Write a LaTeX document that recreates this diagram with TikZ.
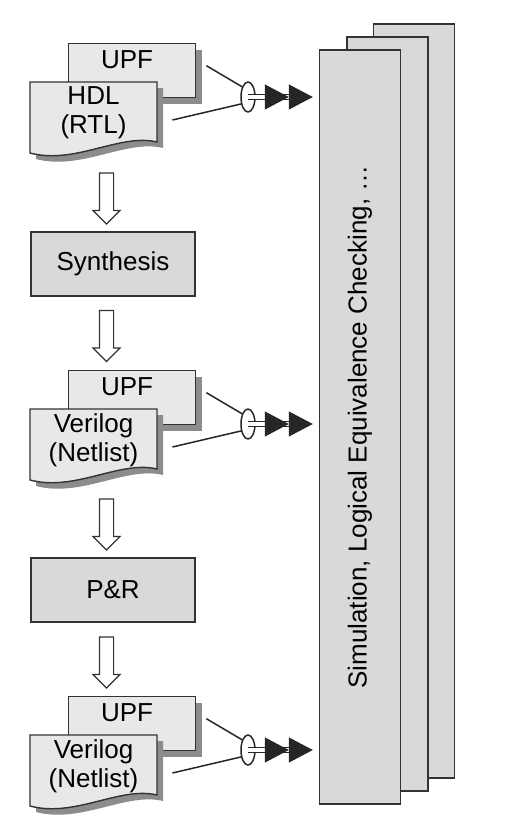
\documentclass[tikz,border=0pt]{standalone}
\usepackage{fontspec}
\setmainfont{Liberation Sans}
\usetikzlibrary{arrows.meta,shapes.geometric,shapes.arrows,shadows}

\begin{document}
\begin{tikzpicture}[x=0.5pt, y=-0.5pt, font=\fontsize{13pt}{14.5pt}\selectfont,
	sheet/.style={shape=rectangle, draw=black!80, line width=0.7pt, fill=black!9, minimum width=63.5pt, minimum height=27pt, anchor=north west, inner sep=0pt, docshadow},
	docpath/.style={draw=black!80, line width=0.7pt, fill=black!9, docshadow},
	docshadow/.style={drop shadow={shadow xshift=3pt, shadow yshift=-3pt, fill=black!45, opacity=1}},
	lbl/.style={inner sep=0pt},
	doctext/.style={align=center, minimum width=63.5pt, inner sep=0pt},
	stepbox/.style={shape=rectangle, draw=black!80, line width=0.7pt, fill=black!15, minimum width=82pt, minimum height=32pt},
	flowarrow/.style={shape=single arrow, draw=black!80, line width=0.6pt, fill=white, minimum height=25.5pt, minimum width=13pt, inner xsep=3.25pt, inner ysep=0pt, single arrow head extend=3.25pt, single arrow tip angle=90, shape border rotate=270},
	wire/.style={draw=black!85, line width=0.75pt},
	tie/.style={shape=ellipse, draw=black!85, line width=0.75pt, minimum width=7pt, minimum height=15pt, inner sep=0pt},
	bundle/.style={draw=black!85, line width=0.6pt, double=white, double distance=1.6pt, -{Triangle[length=12pt,width=12.5pt]Triangle[length=12pt,width=12.5pt]}, shorten >=3pt},
	checkbox/.style={shape=rectangle, draw=black!80, line width=0.7pt, fill=black!15, minimum width=40.5pt, minimum height=377pt}]
	\useasboundingbox (0, 0) rectangle (510, 830);
	% Check tools on the right:
	\node[checkbox] (chkback) at (414, 401){};
	\node[checkbox] (chkmid) at (387.5, 414){};
	\node[checkbox] (chk) at (360, 427){};
	\node[rotate=90] (chktxt) at (chk.center){Simulation, Logical Equivalence Checking, \dots};
	% RTL stage:
	\node[sheet] (upfA) at (68, 43){};
	\node[lbl] (upfAtxt) at (127, 60){UPF};
	\draw[docpath] (30, 82) -- (157, 82) -- (157, 142) .. controls (120, 133) and (75, 165) .. (30, 153) -- cycle;
	\node[doctext] (hdl) at (93.5, 113){HDL\\(RTL)};
	\node[tie] (tieA) at (248, 97){};
	\draw[wire] ([shift={(10,-5)}]upfA.east) -- (tieA.120);
	\draw[wire] ([shift={(15,7)}]hdl.east) -- (tieA.225);
	\draw[bundle] (tieA.center) -- (tieA.center -| chk.west);
	\node[flowarrow] (flowA) at (106.5, 195){};
	\node[stepbox] (synth) at (113, 264){Synthesis};
	\node[flowarrow] (flowB) at (106.5, 332.5){};
	% Netlist after synthesis:
	\node[sheet] (upfB) at (68, 370){};
	\node[lbl] (upfBtxt) at (127, 387){UPF};
	\draw[docpath] (30, 409) -- (157, 409) -- (157, 469) .. controls (120, 460) and (75, 492) .. (30, 480) -- cycle;
	\node[doctext] (netB) at (93.5, 440){Verilog\\(Netlist)};
	\node[tie] (tieB) at (248, 424){};
	\draw[wire] ([shift={(10,-5)}]upfB.east) -- (tieB.120);
	\draw[wire] ([shift={(15,7)}]netB.east) -- (tieB.225);
	\draw[bundle] (tieB.center) -- (tieB.center -| chk.west);
	\node[flowarrow] (flowC) at (106.5, 521){};
	\node[stepbox] (pnr) at (113, 590){P\&R};
	\node[flowarrow] (flowD) at (106.5, 659){};
	% Netlist after P&R:
	\node[sheet] (upfC) at (68, 696){};
	\node[lbl] (upfCtxt) at (127, 713){UPF};
	\draw[docpath] (30, 735) -- (157, 735) -- (157, 795) .. controls (120, 786) and (75, 818) .. (30, 806) -- cycle;
	\node[doctext] (netC) at (93.5, 766){Verilog\\(Netlist)};
	\node[tie] (tieC) at (248, 750){};
	\draw[wire] ([shift={(10,-5)}]upfC.east) -- (tieC.120);
	\draw[wire] ([shift={(15,7)}]netC.east) -- (tieC.225);
	\draw[bundle] (tieC.center) -- (tieC.center -| chk.west);
\end{tikzpicture}
\end{document}
